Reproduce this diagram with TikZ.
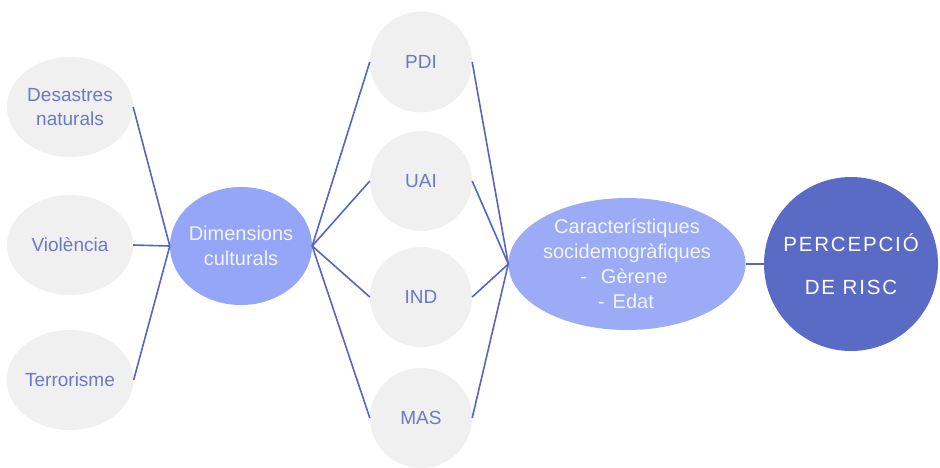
\documentclass[tikz,border=0pt]{standalone}
\usepackage{fontspec}
\setmainfont{Liberation Sans}
\newfontfamily\spacedfont[LetterSpace=9]{Liberation Sans}
\usetikzlibrary{shapes.geometric}
\definecolor{grayfill}{HTML}{F0F0F0}
\definecolor{linecol}{HTML}{5566C2}
\definecolor{graytext}{HTML}{6C78C8}
\definecolor{lightblue}{HTML}{95A5F7}
\definecolor{lightblue2}{HTML}{9CABF6}
\definecolor{darkblue}{HTML}{5A6BC6}
\definecolor{softwhite}{HTML}{F2F4FF}
\tikzset{
  grayell/.style={ellipse, fill=grayfill, draw=none, text=graytext, align=center, inner sep=0pt,
    font=\fontsize{19}{24}\selectfont},
  blueell/.style={ellipse, fill=lightblue, draw=none, text=softwhite, align=center, inner sep=0pt,
    inner xsep=-4pt, font=\fontsize{20}{25}\selectfont},
  conn/.style={draw=linecol, line width=1.6pt},
}
\begin{document}
\begin{tikzpicture}[x=1pt,y=-1pt]
\useasboundingbox (0,0) rectangle (940,467);
% left nodes
\node[grayell, minimum width=126pt, minimum height=100pt] (des) at (70,107) {Desastres\\naturals};
\node[grayell, minimum width=126pt, minimum height=100pt] (vio) at (70,245) {Violència};
\node[grayell, minimum width=126pt, minimum height=100pt] (ter) at (70,380) {Terrorisme};
% dimensions
\node[blueell, minimum width=142pt, minimum height=118pt] (dim) at (241,246) {Dimensions\\culturals};
% middle nodes
\node[grayell, minimum width=102pt, minimum height=101pt] (pdi) at (421,62) {PDI};
\node[grayell, minimum width=102pt, minimum height=100pt] (uai) at (421,181) {UAI};
\node[grayell, minimum width=102pt, minimum height=100pt] (ind) at (421,297) {IND};
\node[grayell, minimum width=102pt, minimum height=100pt] (mas) at (421,418) {MAS};
% caracteristiques
\node[blueell, fill=lightblue2, minimum width=237pt, minimum height=132pt] (car) at (627,264)
  {Característiques\\socidemogràfiques\\\hspace*{-6pt}-\hspace{14pt}Gèrene\\\hspace*{-2pt}-\hspace{8pt}Edat};
% percepcio
\node[circle, fill=darkblue, draw=none, text=white, align=center, inner sep=0pt, minimum size=174pt,
  font=\spacedfont\fontsize{20.5}{43}\selectfont] (per) at (851,264) {PERCEPCIÓ\\DE RISC};
% connectors
\draw[conn] (des.east) -- (dim.west);
\draw[conn] (vio.east) -- (dim.west);
\draw[conn] (ter.east) -- (dim.west);
\draw[conn] (dim.east) -- (pdi.west);
\draw[conn] (dim.east) -- (uai.west);
\draw[conn] (dim.east) -- (ind.west);
\draw[conn] (dim.east) -- (mas.west);
\draw[conn] (pdi.east) -- (car.west);
\draw[conn] (uai.east) -- (car.west);
\draw[conn] (ind.east) -- (car.west);
\draw[conn] (mas.east) -- (car.west);
\draw[conn] (car.east) -- (per.west);
\end{tikzpicture}
\end{document}
